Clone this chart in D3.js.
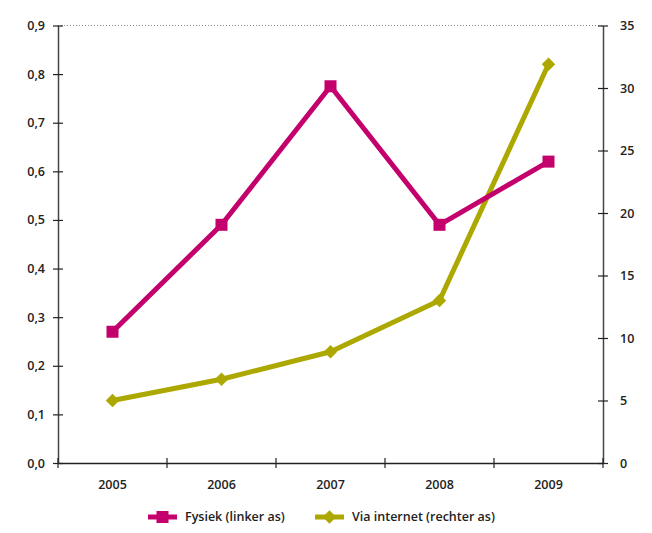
<!DOCTYPE html>
<html>
<head>
<meta charset="utf-8">
<script src="https://cdn.jsdelivr.net/npm/d3@7"></script>
<style>
  body { margin: 0; background: #fff; }
  text { font-family: "Open Sans", sans-serif; font-weight: 600; fill: #222; }
</style>
</head>
<body>
<div id="chart"></div>
<script>
// data
const years = ["2005", "2006", "2007", "2008", "2009"];
const fysiek = [0.27, 0.49, 0.775, 0.49, 0.62];      // left axis
const viaInternet = [5.0, 6.7, 8.9, 13.0, 31.9];     // right axis
const leftTicks = [0, 0.1, 0.2, 0.3, 0.4, 0.5, 0.6, 0.7, 0.8, 0.9];
const rightTicks = [0, 5, 10, 15, 20, 25, 30, 35];

const W = 652, H = 533;
const marginL = 58, marginT = 25.5;
const width = 545, height = 437.5;

const pink = "#c4006d";
const olive = "#aca800";

const svg = d3.select("#chart")
  .append("svg")
    .attr("width", W)
    .attr("height", H);

const g = svg.append("g")
  .attr("transform", "translate(" + marginL + "," + marginT + ")");

const x = d3.scaleBand().domain(years).range([0, width]);
const yL = d3.scaleLinear().domain([0, 0.9]).range([height, 0]);
const yR = d3.scaleLinear().domain([0, 35]).range([height, 0]);

// dotted top line
g.append("line")
  .attr("x1", 0).attr("x2", width)
  .attr("y1", 0).attr("y2", 0)
  .attr("stroke", "#888")
  .attr("stroke-width", 1)
  .attr("stroke-dasharray", "1,2");

const fmt = d => d3.format(".1f")(d).replace(".", ",");

// left axis
const axL = g.append("g")
  .call(d3.axisLeft(yL).tickValues(leftTicks).tickFormat(fmt).tickSize(5).tickSizeOuter(0));
axL.select(".domain").attr("stroke", "#444").attr("stroke-width", 1.5);
axL.selectAll(".tick line").attr("stroke", "#222").attr("stroke-width", 1.2).attr("x2", 5).attr("x1", -5);
axL.selectAll(".tick text").attr("x", -13).style("font-size", "12.5px");

// right axis
const axR = g.append("g")
  .attr("transform", "translate(" + width + ",0)")
  .call(d3.axisRight(yR).tickValues(rightTicks).tickSize(5).tickSizeOuter(0));
axR.select(".domain").attr("stroke", "#444").attr("stroke-width", 1.5);
axR.selectAll(".tick line").attr("stroke", "#222").attr("stroke-width", 1.2).attr("x1", -5).attr("x2", 5);
axR.selectAll(".tick text").attr("x", 17).style("font-size", "12.5px");

// bottom axis
const axB = g.append("g")
  .attr("transform", "translate(0," + height + ")")
  .call(d3.axisBottom(x).tickSize(0).tickSizeOuter(0));
axB.select(".domain").attr("stroke", "#222").attr("stroke-width", 1.5);
axB.selectAll(".tick text").attr("y", 17).style("font-size", "12.5px");
// band boundary ticks
axB.selectAll(".sep")
  .data(years.concat(["end"]))
  .enter()
  .append("line")
    .attr("class", "sep")
    .attr("x1", (d, i) => i * x.step())
    .attr("x2", (d, i) => i * x.step())
    .attr("y1", -5).attr("y2", 5)
    .attr("stroke", "#222")
    .attr("stroke-width", 1.2);

const cx = d => x(d) + x.bandwidth() / 2;

// lines
g.append("path")
  .datum(years)
  .attr("fill", "none")
  .attr("stroke", olive)
  .attr("stroke-width", 5)
  .attr("stroke-linejoin", "round")
  .attr("d", d3.line().x(d => cx(d)).y((d, i) => yR(viaInternet[i])));

g.append("path")
  .datum(years)
  .attr("fill", "none")
  .attr("stroke", pink)
  .attr("stroke-width", 5)
  .attr("stroke-linejoin", "round")
  .attr("d", d3.line().x(d => cx(d)).y((d, i) => yL(fysiek[i])));

// markers
const diamond = d3.symbol().type(d3.symbolDiamond2).size(115);
g.selectAll(".dia")
  .data(years)
  .enter()
  .append("path")
    .attr("class", "dia")
    .attr("d", diamond)
    .attr("transform", (d, i) => "translate(" + cx(d) + "," + yR(viaInternet[i]) + ")")
    .attr("fill", olive);

g.selectAll(".sq")
  .data(years)
  .enter()
  .append("rect")
    .attr("class", "sq")
    .attr("x", d => cx(d) - 6)
    .attr("y", (d, i) => yL(fysiek[i]) - 6)
    .attr("width", 12)
    .attr("height", 12)
    .attr("fill", pink);

// legend
const legend = svg.append("g").attr("transform", "translate(0,517)");
const items = [
  { label: "Fysiek (linker as)", color: pink, x0: 148, shape: "sq" },
  { label: "Via internet (rechter as)", color: olive, x0: 315, shape: "dia" }
];
items.forEach(it => {
  const li = legend.append("g").attr("transform", "translate(" + it.x0 + ",0)");
  li.append("line")
    .attr("x1", 0).attr("x2", 29)
    .attr("y1", 0).attr("y2", 0)
    .attr("stroke", it.color)
    .attr("stroke-width", 5);
  if (it.shape === "sq") {
    li.append("rect").attr("x", 8.5).attr("y", -6).attr("width", 12).attr("height", 12).attr("fill", it.color);
  } else {
    li.append("path").attr("d", diamond).attr("transform", "translate(14.5,0)").attr("fill", it.color);
  }
  li.append("text")
    .attr("x", 37)
    .attr("y", 0)
    .attr("dy", "0.35em")
    .style("font-size", "12.5px")
    .text(it.label);
});
</script>
</body>
</html>
